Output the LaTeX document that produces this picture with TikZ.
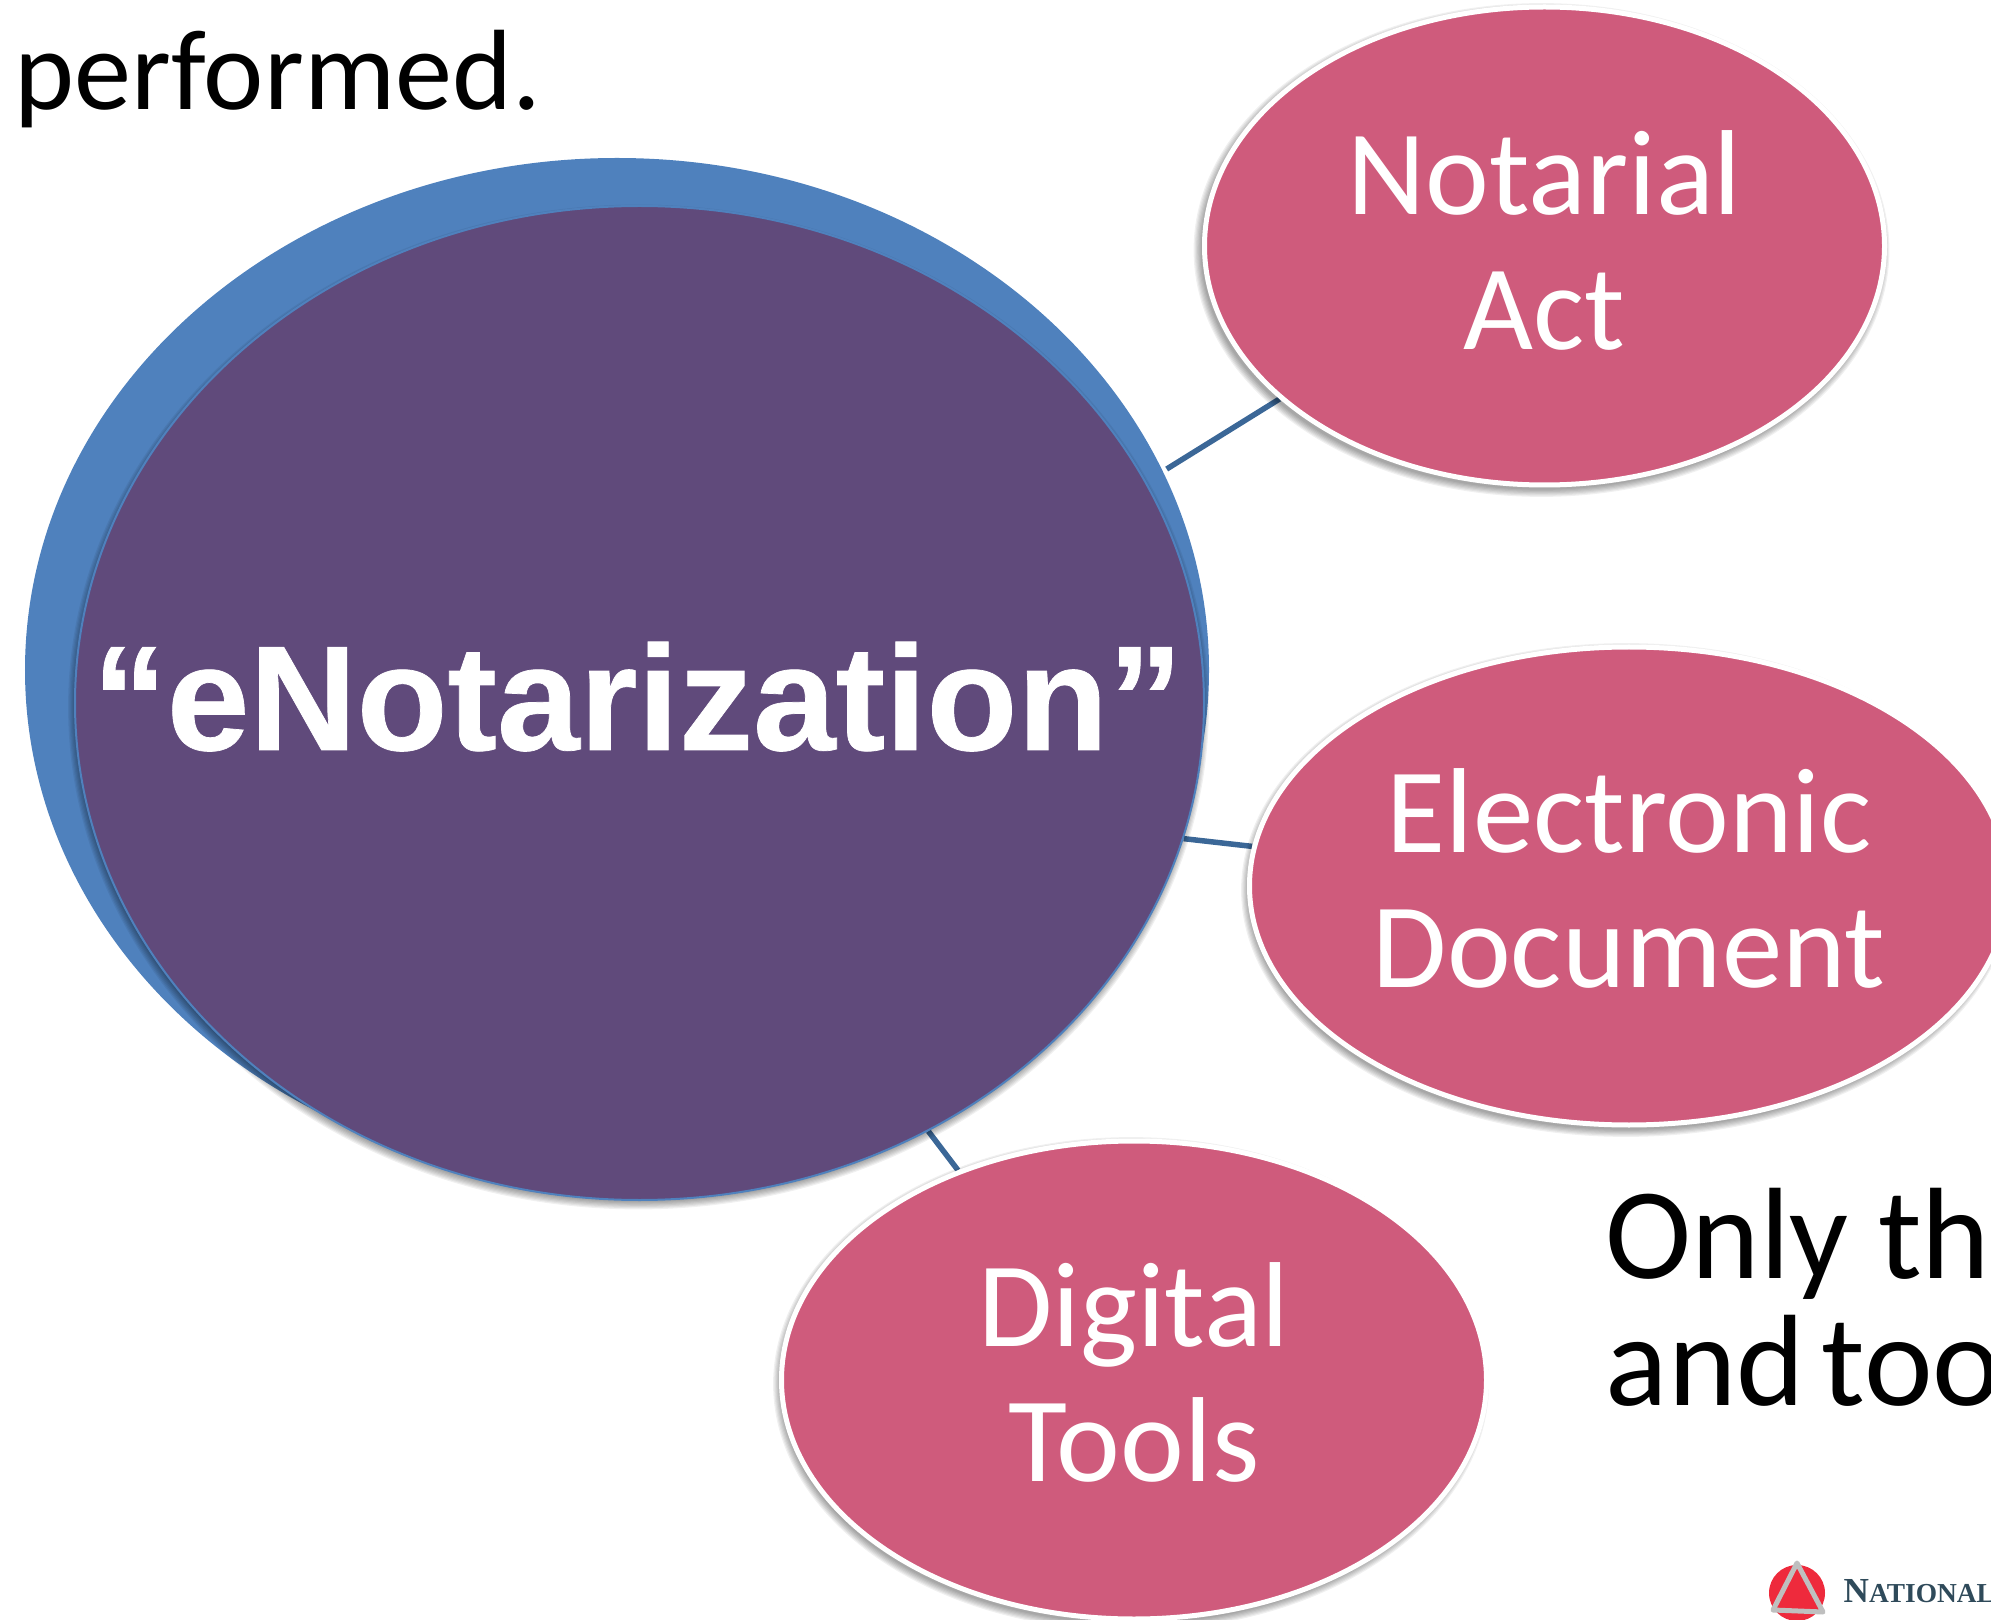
\documentclass[tikz,border=0pt]{standalone}
\usepackage{fontspec}
\setmainfont{Carlito}
\newfontfamily\titlefont[BoldFeatures={FakeBold=0.5,FakeStretch=0.995}]{Liberation Sans}
\newfontfamily\logofont{Liberation Serif}
\usetikzlibrary{shapes.geometric,backgrounds}
\definecolor{outerblue}{HTML}{4F81BD}
\definecolor{mainpurple}{HTML}{604A7B}
\definecolor{itempink}{HTML}{CF5B7C}
\definecolor{linkblue}{HTML}{3B6797}
\definecolor{logored}{HTML}{EE2A3C}
\definecolor{logoslate}{HTML}{2F4A5A}
\tikzset{
	itemnode/.style={ellipse, draw=white, line width=0.05cm, fill=itempink, inner sep=0pt,
		text=white, align=center, text depth=0.15cm, font=\fontsize{34.4}{38.4}\selectfont},
	linkline/.style={linkblue, line width=0.055cm},
	bodytext/.style={anchor=base west, inner sep=0pt, font=\fontsize{37}{36}\selectfont}
}
\newcommand{\softshadow}[4]{%
	\foreach \g in {1,...,7}{%
		\fill[black, opacity=0.06] (#1,#2) ellipse [x radius=#3cm+\g*0.012cm-0.03cm, y radius=#4cm+\g*0.012cm-0.03cm];
	}%
}
\begin{document}
\begin{tikzpicture}
		\useasboundingbox (0,0) rectangle (19.91,-16.20);
		\clip (0,0) rectangle (19.91,-16.20);
		\node[bodytext, font=\fontsize{32.5}{36}\selectfont] (performed) at (0.14,-1.10) {performed.};
		\node[bodytext] (only) at (16.05,-12.78) {Only th};
		\node[bodytext] (tools) at (16.05,-14.05) {and\kern-0.12cm\ too};
		\node[ellipse, fill=outerblue, inner sep=0pt, minimum width=11.84cm, minimum height=10.24cm] (outer) at (6.17,-6.70) {};
		\softshadow{6.385}{-7.07}{5.65}{4.97}
		\node[ellipse, draw=outerblue, line width=0.02cm, fill=mainpurple, inner sep=0pt, minimum width=11.29cm, minimum height=9.94cm] (main) at (6.395,-7.03) {};
		\node[anchor=base, inner sep=0pt, text=white, font=\titlefont\bfseries\fontsize{42.5}{42.5}\selectfont] (title) at (6.375,-7.50) {“eNotarization”};
		\softshadow{15.415}{-2.50}{3.425}{2.415}
		\node[itemnode, text depth=0.11cm, minimum width=6.80cm, minimum height=4.78cm] (notarial) at (15.445,-2.46) {Notarial\\Act};
		\softshadow{16.26}{-8.90}{3.795}{2.415}
		\node[itemnode, minimum width=7.59cm, minimum height=4.78cm] (electronic) at (16.29,-8.86) {Electronic\\Document};
		\softshadow{11.31}{-13.84}{3.525}{2.415}
		\node[itemnode, minimum width=7.05cm, minimum height=4.78cm] (digital) at (11.34,-13.80) {Digital\\Tools};
		\begin{pgfonlayer}{background}
			\draw[linkline, shorten <=0.04cm] (outer.20) -- (notarial.210.7);
			\draw[linkline] (main.-14.4) -- (electronic.174.3);
			\draw[linkline] (main.-56.7) -- (digital.130.4);
		\end{pgfonlayer}
		\node[circle, fill=logored, inner sep=0pt, minimum size=0.56cm] (emblem) at (17.97,-15.93) {};
		\draw[gray!50!white, line width=0.05cm, line join=round] (17.97,-15.63) -- (17.73,-16.10) -- (18.23,-16.12) -- cycle;
		\node[anchor=base west, inner sep=0pt, text=logoslate, font=\logofont\bfseries] (logo) at (18.43,-16.02)
			{\fontsize{10}{12}\selectfont N\fontsize{7.8}{12}\selectfont ATIONAL};
	\end{tikzpicture}
\end{document}
